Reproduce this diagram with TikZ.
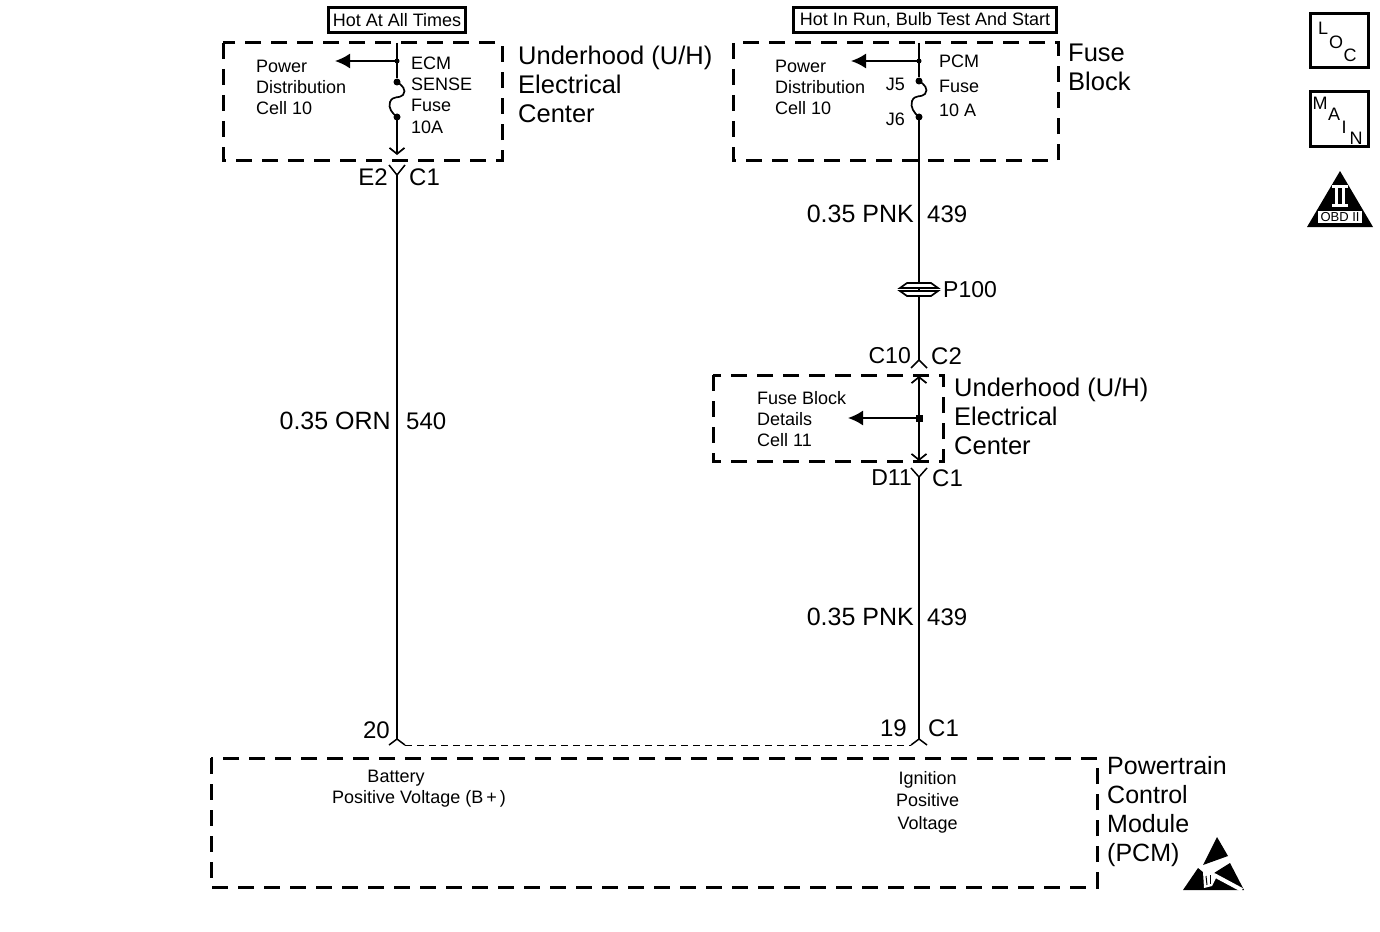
\documentclass[tikz,border=0pt]{standalone}
\usepackage{fontspec}
\setmainfont{Liberation Sans}
\usetikzlibrary{arrows.meta}
\newcommand{\bigfont}{\fontsize{25.5}{29}\selectfont}
\newcommand{\midfont}{\fontsize{24}{29}\selectfont}
\newcommand{\smallfont}{\fontsize{18}{21}\selectfont}
\tikzset{
  wire/.style={line width=1.7pt},
  zone/.style={line width=3pt, dash pattern=on 16pt off 10pt},
  tag/.style={draw, line width=3pt, inner sep=0pt, minimum height=25pt, font=\smallfont},
  big/.style={inner sep=0pt, anchor=west, align=left, font=\bigfont},
  mid/.style={inner sep=0pt, font=\midfont},
  gauge/.style={inner sep=0pt, font=\fontsize{25}{29}\selectfont},
  tight/.style={inner sep=0pt, font=\fontsize{23}{29}\selectfont},
  small/.style={inner sep=0pt, align=left, font=\smallfont},
  feed/.style={wire, -{Latex[length=15pt,width=15pt]}},
  open/.style={wire, -{Straight Barb[length=6pt,width=15pt]}},
  dot/.style={circle, fill, inner sep=0pt, minimum size=7pt},
  pin/.style={line width=1.5pt}
}
\begin{document}
\begin{tikzpicture}[x=1pt, y=-1pt]
   \useasboundingbox (0,0) rectangle (1380,931);
   % feeds
   \node[tag, minimum width=137pt] (hota) at (397,20) {Hot At All Times};
   \node[tag, minimum width=263pt] (hotb) at (925,20) {Hot In Run, Bulb Test And Start};
   % zones
   \draw[zone] (223,43) rectangle (502,160);
   \draw[zone] (733,43) rectangle (1058,160);
   \draw[zone] (713,375) rectangle (943,461);
   \draw[zone] (211,758) rectangle (1097,887);
   % left wire
   \coordinate (la) at (397,43);
   \node[dot, minimum size=5pt] (lb) at (397,61) {};
   \node[dot] (lc) at (397,82) {};
   \node[dot] (ld) at (397,117) {};
   \coordinate (le) at (397,155);
   \coordinate (lf) at (397,175);
   \coordinate (lg) at (397,739);
   \coordinate (lh) at (335,61);
   \draw[wire] (la) -- (lc);
   \draw[wire] (lc.center) .. controls (402,85) and (407,90) .. (403,95) .. controls (399,99) and (393,95) .. (390,102) .. controls (388,108) and (392,113) .. (ld.center);
   \draw[open] (ld.center) -- (le);
   \draw[feed] (lb.center) -- (lh);
   \draw[pin] (389,165) -- (lf) -- (405,165);
   \draw[wire] (lf) -- (lg);
   \draw[pin] (389,745) -- (lg) -- (405,745);
   % right wire
   \coordinate (ra) at (919,43);
   \node[dot, minimum size=5pt] (rb) at (919,61) {};
   \node[dot] (rc) at (919,81) {};
   \node[dot] (rd) at (919,117) {};
   \coordinate (rf) at (919,360);
   \coordinate (rg) at (851,61);
   \draw[wire] (ra) -- (rc);
   \draw[wire] (rc.center) .. controls (924,84) and (929,89) .. (925,94) .. controls (921,98) and (915,94) .. (912,101) .. controls (910,107) and (914,113) .. (rd.center);
   \draw[wire] (rd.center) -- (rf);
   \draw[feed] (rb.center) -- (rg);
   % inline
   \draw[line width=1.7pt, fill=white] (900,288) -- (907,283) -- (931,283) -- (938,288) -- cycle;
   \draw[line width=1.7pt, fill=white] (900,291) -- (907,296) -- (931,296) -- (938,291) -- cycle;
   \draw[pin] (911,368) -- (rf) -- (927,368);
   \node[fill, inner sep=0pt, minimum size=7pt] (rh) at (919,418) {};
   \coordinate (ri) at (919,376);
   \coordinate (rj) at (919,461);
   \coordinate (rk) at (848,418);
   \draw[open] (rh.center) -- (ri);
   \draw[open] (rh.center) -- (rj);
   \draw[feed] (rh.center) -- (rk);
   \coordinate (rl) at (919,477);
   \coordinate (rm) at (919,739);
   \draw[pin] (911,468) -- (rl) -- (927,468);
   \draw[wire] (rl) -- (rm);
   \draw[pin] (911,745) -- (rm) -- (927,745);
   \draw[line width=1pt, dash pattern=on 7pt off 5pt] (405,745) -- (911,745);
   % left labels
   \node[small, anchor=north west] (powa) at (256,60) {Power\\Distribution\\Cell 10};
   \node[small, anchor=north west] (fusa) at (411,57) {ECM\\SENSE\\Fuse\\[1pt]10A};
   \node[big, anchor=north west] (uha) at (518,46) {Underhood (U/H)\\Electrical\\Center};
   \node[mid, anchor=east] (ea) at (388,177) {E2};
   \node[mid, anchor=west] (eb) at (409,177) {C1};
   \node[gauge, anchor=east] (wa) at (391,421) {0.35 ORN};
   \node[mid, anchor=west] (wb) at (406,421) {540};
   \node[mid, anchor=east] (pa) at (390,730) {20};
   % right labels
   \node[small, anchor=north west] (powb) at (775,60) {Power\\Distribution\\Cell 10};
   \node[small, anchor=east] (ja) at (905,84) {J5};
   \node[small, anchor=east] (jb) at (905,119) {J6};
   \node[small, anchor=north west] (fusb) at (939,55) {PCM\\[3.5pt]Fuse\\[3.5pt]10 A};
   \node[big, anchor=north west] (fb) at (1068,44) {Fuse\\Block};
   \node[gauge, anchor=east] (wc) at (914,214) {0.35 PNK};
   \node[mid, anchor=west] (wd) at (927,214) {439};
   \node[tight, anchor=west] (pc) at (943,290) {P100};
   \node[tight, anchor=east] (ca) at (911,356) {C10};
   \node[mid, anchor=west] (cb) at (931,356) {C2};
   \node[small, anchor=north west] (det) at (757,391) {Fuse Block\\Details\\Cell 11};
   \node[big, anchor=north west] (uhb) at (954,378) {Underhood (U/H)\\Electrical\\Center};
   \node[tight, anchor=east] (cc) at (912,478) {D11};
   \node[mid, anchor=west] (cd) at (932,478) {C1};
   \node[gauge, anchor=east] (we) at (914,617) {0.35 PNK};
   \node[mid, anchor=west] (wf) at (927,617) {439};
   \node[mid, anchor=east] (pb) at (907,728) {19};
   \node[mid, anchor=west] (pd) at (928,728) {C1};
   % module labels
   \node[small, anchor=north] (bat) at (396,770) {Battery};
   \node[small, anchor=north west] (bpv) at (332,790) {Positive Voltage (B\,+\,)};
   \node[small, anchor=north west, align=center] (ign) at (896,771) {Ignition\\[1.5pt]Positive\\[1.5pt]Voltage};
   \node[big, anchor=north west, font=\fontsize{25}{29}\selectfont] (pcm) at (1107,756) {Powertrain\\Control\\Module\\(PCM)};
   % icons
   \node[draw, line width=3pt, minimum width=58pt, minimum height=54pt] (loc) at (1339,41) {};
   \node[small, inner sep=0pt] (loca) at (1323,28) {L};
   \node[small, inner sep=0pt] (locb) at (1336,42) {O};
   \node[small, inner sep=0pt] (locc) at (1350,55) {C};
   \node[draw, line width=3pt, minimum width=58pt, minimum height=54pt] (main) at (1339,119) {};
   \node[small, inner sep=0pt] (maina) at (1320,103) {M};
   \node[small, inner sep=0pt] (mainb) at (1334,114) {A};
   \node[small, inner sep=0pt] (mainc) at (1344,127) {I};
   \node[small, inner sep=0pt] (maind) at (1356,138) {N};
   \fill (1340,171) -- (1373,227) -- (1307,227) -- cycle;
   \fill[white] (1332,185) rectangle (1348,188);
   \fill[white] (1332,204) rectangle (1348,207);
   \fill[white] (1335,188) rectangle (1338,204);
   \fill[white] (1342,188) rectangle (1345,204);
   \fill[white] (1318,211) rectangle (1362,223);
   \node[inner sep=0pt, font=\fontsize{13}{14}\selectfont] (obd) at (1340,217) {OBD II};
   % esd mark
   \fill (1217,837) -- (1228,856) -- (1203,865) -- cycle;
   \fill (1198,868) -- (1183,890) -- (1244,890) -- (1230,863) -- (1214,873) -- (1204,873) -- cycle;
   \draw[white, line width=4pt] (1214,875) -- (1242,890);
   \fill[white] (1203,872) -- (1214,871) -- (1216,878) -- (1212,886) -- (1204,888) -- cycle;
   \draw[line width=1pt] (1206,876) -- (1207,885);
   \draw[line width=1pt] (1210,875) -- (1210,884);
\end{tikzpicture}
\end{document}
